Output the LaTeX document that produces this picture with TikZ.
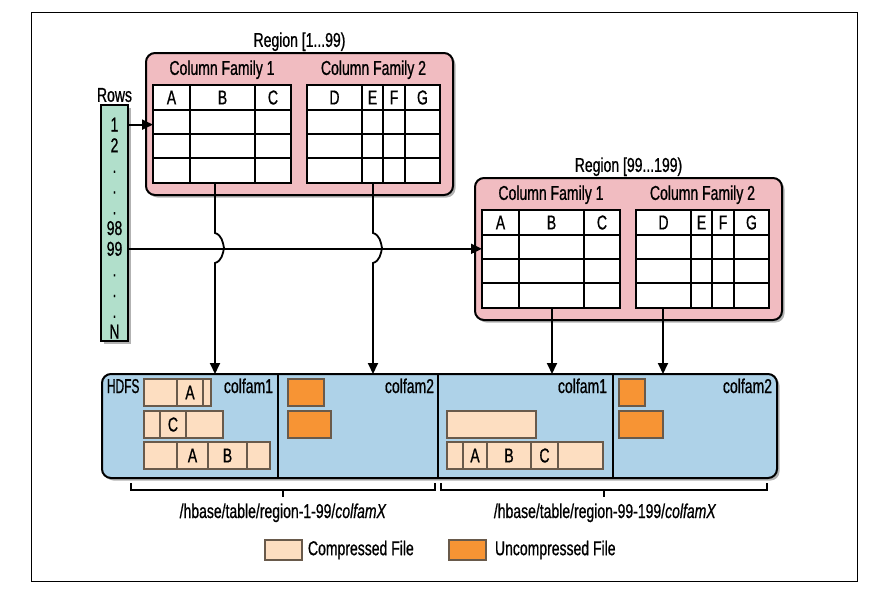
\documentclass[tikz,border=0pt]{standalone}
\usepackage{fontspec}
\setmainfont{Liberation Sans}[FakeStretch=0.7,FakeBold=0.8]
\usepackage{xcolor}
\usepackage{tikz}
\usetikzlibrary{positioning,arrows.meta,calc,shadows}
\definecolor{regionpink}{RGB}{241,188,193}
\definecolor{rowsgreen}{RGB}{177,223,203}
\definecolor{hdfsblue}{RGB}{174,210,232}
\definecolor{filepeach}{RGB}{253,222,193}
\definecolor{fileorange}{RGB}{247,148,52}
\definecolor{fileedge}{RGB}{105,90,75}

\begin{document}
\begin{tikzpicture}[x=1pt,y=-1pt,
    every node/.style={font=\fontsize{20}{23}\selectfont,inner sep=0pt,outer sep=0pt},
    softshadow/.style={drop shadow={shadow xshift=2.5pt,shadow yshift=-2.5pt,fill=black,opacity=0.3}},
    regionbox/.style={draw,line width=2pt,rounded corners=9pt,fill=regionpink,softshadow,anchor=north west},
    celltable/.style={draw,line width=1.8pt,fill=white,anchor=north west},
    gridline/.style={line width=1.8pt},
    flow/.style={-{Triangle[length=11pt,width=10pt]},line width=1.8pt},
    seg/.style={draw=fileedge,fill=filepeach,line width=1.2pt,minimum height=27pt,anchor=north west},
    rawfile/.style={draw=fileedge,fill=fileorange,line width=1.2pt,minimum height=27pt,anchor=north west}]
    \useasboundingbox (0,0) rectangle (889,590);
    \draw[line width=1pt] (31,12) rectangle (857,581);
    % region [1...99)
    \node[regionbox,minimum width=307pt,minimum height=142pt] (reg1) at (146,53) {};
    \node[above=2pt of reg1] (reg1title) {Region [1...99)};
    \node[celltable,minimum width=138pt,minimum height=98pt] (reg1cfa) at (153,85) {};
    \node[celltable,minimum width=133pt,minimum height=98pt] (reg1cfb) at (307,85) {};
    \node[above=6pt of reg1cfa] (reg1cfatitle) {Column Family 1};
    \node[above=6pt of reg1cfb] (reg1cfbtitle) {Column Family 2};
    \draw[gridline] (153,110) -- (291,110) (153,134) -- (291,134) (153,158) -- (291,158) (190,85) -- (190,183) (255,85) -- (255,183);
    \draw[gridline] (307,110) -- (440,110) (307,134) -- (440,134) (307,158) -- (440,158) (362,85) -- (362,183) (383,85) -- (383,183) (405,85) -- (405,183);
    \node (reg1A) at (171.5,97.5) {A};
    \node (reg1B) at (222.5,97.5) {B};
    \node (reg1C) at (273,97.5) {C};
    \node (reg1D) at (334.5,97.5) {D};
    \node (reg1E) at (372.5,97.5) {E};
    \node (reg1F) at (394,97.5) {F};
    \node (reg1G) at (422.5,97.5) {G};
    % region [99...199)
    \begin{scope}[shift={(329,125)}]
    \node[regionbox,minimum width=307pt,minimum height=142pt] (reg2) at (146,53) {};
    \node[above=2pt of reg2] (reg2title) {Region [99...199)};
    \node[celltable,minimum width=138pt,minimum height=98pt] (reg2cfa) at (153,85) {};
    \node[celltable,minimum width=133pt,minimum height=98pt] (reg2cfb) at (307,85) {};
    \node[above=6pt of reg2cfa] (reg2cfatitle) {Column Family 1};
    \node[above=6pt of reg2cfb] (reg2cfbtitle) {Column Family 2};
    \draw[gridline] (153,110) -- (291,110) (153,134) -- (291,134) (153,158) -- (291,158) (190,85) -- (190,183) (255,85) -- (255,183);
    \draw[gridline] (307,110) -- (440,110) (307,134) -- (440,134) (307,158) -- (440,158) (362,85) -- (362,183) (383,85) -- (383,183) (405,85) -- (405,183);
    \node (reg2A) at (171.5,97.5) {A};
    \node (reg2B) at (222.5,97.5) {B};
    \node (reg2C) at (273,97.5) {C};
    \node (reg2D) at (334.5,97.5) {D};
    \node (reg2E) at (372.5,97.5) {E};
    \node (reg2F) at (394,97.5) {F};
    \node (reg2G) at (422.5,97.5) {G};
    \end{scope}
    % row keys
    \node[draw,line width=1.8pt,fill=rowsgreen,softshadow,minimum width=27pt,minimum height=236pt,anchor=north west] (rows) at (101,105) {};
    \node[above=3pt of rows] (rowstitle) {Rows};
    \foreach \t [count=\i] in {1,2,.,.,.,98,99,.,.,.,N}
        \node[anchor=base] (row\i) at (114.5,110.8+20.7*\i) {\t};
    % HDFS
    \node[draw,line width=2pt,rounded corners=9pt,fill=hdfsblue,softshadow,minimum width=675pt,minimum height=104pt,anchor=north west] (hdfs) at (102,374) {};
    \draw[gridline] (hdfs.north -| 278,0) -- (hdfs.south -| 278,0);
    \draw[gridline] (hdfs.north -| 438,0) -- (hdfs.south -| 438,0);
    \draw[gridline] (hdfs.north -| 613,0) -- (hdfs.south -| 613,0);
    \node[anchor=base west] (hdfstitle) at (107,393) {\scalebox{0.85}[1]{HDFS}};
    \node[anchor=base east] (colfamA) at (273,393) {colfam1};
    \node[anchor=base east] (colfamB) at (434,393) {colfam2};
    \node[anchor=base east] (colfamC) at (607,393) {colfam1};
    \node[anchor=base east] (colfamD) at (772,393) {colfam2};
    % store files
    \node[seg,minimum width=33pt] (fa1) at (144,379) {};
    \node[seg,minimum width=26pt,right=0pt of fa1] (fa2) {A};
    \node[seg,minimum width=8pt,right=0pt of fa2] (fa3) {};
    \node[seg,minimum width=16pt] (fb1) at (144,411) {};
    \node[seg,minimum width=26pt,right=0pt of fb1] (fb2) {C};
    \node[seg,minimum width=37pt,right=0pt of fb2] (fb3) {};
    \node[seg,minimum width=33pt] (fc1) at (144,442) {};
    \node[seg,minimum width=31pt,right=0pt of fc1] (fc2) {A};
    \node[seg,minimum width=39pt,right=0pt of fc2] (fc3) {B};
    \node[seg,minimum width=23pt,right=0pt of fc3] (fc4) {};
    \node[rawfile,minimum width=36pt] (ua) at (288,379) {};
    \node[rawfile,minimum width=43pt] (ub) at (288,411) {};
    \node[seg,minimum width=89pt] (fd1) at (447,411) {};
    \node[seg,minimum width=16pt] (fe1) at (447,442) {};
    \node[seg,minimum width=24pt,right=0pt of fe1] (fe2) {A};
    \node[seg,minimum width=44pt,right=0pt of fe2] (fe3) {B};
    \node[seg,minimum width=27pt,right=0pt of fe3] (fe4) {C};
    \node[seg,minimum width=45pt,right=0pt of fe4] (fe5) {};
    \node[rawfile,minimum width=26pt] (uc) at (619,379) {};
    \node[rawfile,minimum width=44pt] (ud) at (619,411) {};
    % connectors
    \draw[flow] (rows.east |- row1.center) -- (reg1cfa.west |- row1.center);
    \draw[flow] (rows.east |- row7.center) -- (reg2cfa.west |- row7.center);
    \draw[flow] (reg1cfa.south -| 215,0) -- (215,233) .. controls (222,235) and (223,243) .. (224,248) .. controls (223,253) and (222,261) .. (215,263) -- (hdfs.north -| 215,0);
    \draw[flow] (reg1cfb.south -| 373,0) -- (373,233) .. controls (380,235) and (381,243) .. (382,248) .. controls (381,253) and (380,261) .. (373,263) -- (hdfs.north -| 373,0);
    \draw[flow] (reg2cfa.south -| 552,0) -- (hdfs.north -| 552,0);
    \draw[flow] (reg2cfb.south -| 663,0) -- (hdfs.north -| 663,0);
    % paths
    \draw[line width=1.4pt] (131,483) -- (131,490) -- (435,490) -- (435,483) (283,490) -- (283,497);
    \draw[line width=1.4pt] (441,483) -- (441,490) -- (767,490) -- (767,483) (604,490) -- (604,497);
    \node[anchor=base] (path1) at (283,518) {/hbase/table/region-1-99/\textit{colfamX}};
    \node[anchor=base] (path2) at (605,518) {/hbase/table/region-99-199/\textit{colfamX}};
    % legend
    \node[seg,minimum width=37pt,minimum height=20pt] (keycomp) at (265,540) {};
    \node[right=6pt of keycomp] (keycomptext) {Compressed File};
    \node[rawfile,minimum width=37pt,minimum height=20pt] (keyraw) at (449,540) {};
    \node[right=9pt of keyraw] (keyrawtext) {Uncompressed File};
\end{tikzpicture}
\end{document}
